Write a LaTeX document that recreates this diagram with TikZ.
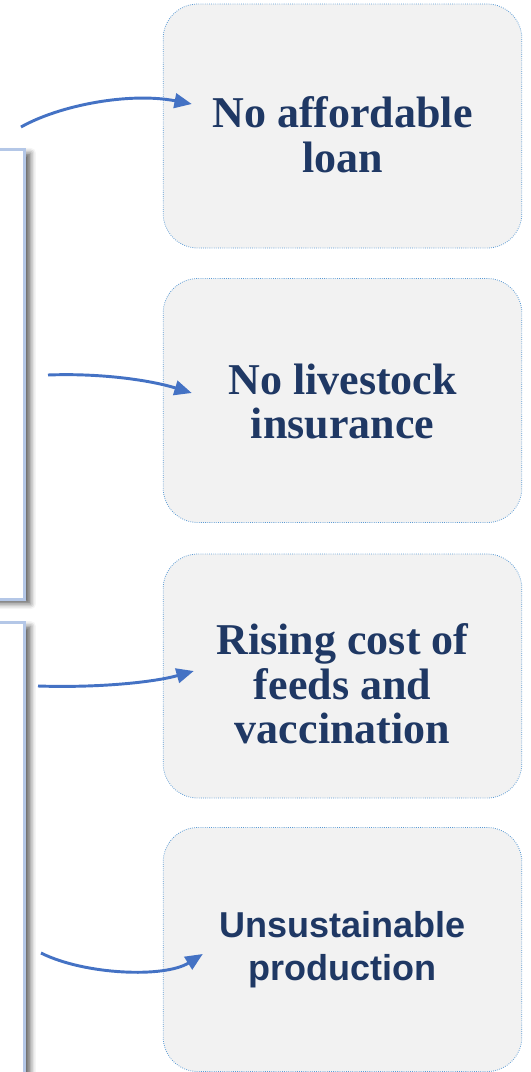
\documentclass[tikz,border=0pt]{standalone}
\usepackage{fontspec}
\usepackage{xcolor}
\usetikzlibrary{arrows.meta, calc, shadows.blur, positioning}
\newfontfamily\boxserif{Liberation Serif}
\newfontfamily\boxsans{Liberation Sans}
\definecolor{navytext}{RGB}{31,56,100}
\definecolor{arrowblue}{RGB}{68,114,196}
\definecolor{dotblue}{RGB}{91,155,213}
\definecolor{paleblue}{RGB}{180,199,231}
\definecolor{boxgray}{RGB}{242,242,242}

\begin{document}
\begin{tikzpicture}[x=0.75pt, y=-0.75pt,
    effect/.style={draw=dotblue, densely dotted, line width=0.6pt, fill=boxgray,
        rounded corners=26pt, minimum width=269pt, minimum height=183pt},
    effecttext/.style={align=center, text=navytext, inner sep=0pt,
        font=\boxserif\bfseries\fontsize{33}{33.5}\selectfont},
    cause/.style={draw=paleblue, line width=2.25pt, fill=white, inner sep=0pt,
        blur shadow={shadow xshift=5pt, shadow yshift=-3pt, shadow blur radius=4pt,
        shadow opacity=60}},
    link/.style={draw=arrowblue, line width=2.2pt,
        -{Triangle[length=13pt, width=11pt]}}]
    \useasboundingbox (0, 0) rectangle (531, 1072);
    % left frames
    \node[cause, minimum width=33pt, minimum height=338pt] (causeA) at (2, 374.5) {};
    \node[cause, minimum width=33pt, minimum height=358pt] (causeB) at (2, 861) {};
    % effects
    \node[effect] (loan) at (342.5, 126) {};
    \node[effect] (insur) at (342.5, 400.5) {};
    \node[effect] (feeds) at (342.5, 676) {};
    \node[effect] (prod) at (342.5, 949.5) {};
    \node[effecttext] at ($(loan)+(0, 9)$) {No affordable\\loan};
    \node[effecttext] at ($(insur)+(0, 1)$) {No livestock\\insurance};
    \node[effecttext] at ($(feeds)+(0, 8)$) {Rising cost of\\feeds and\\vaccination};
    \node[effecttext, font=\boxsans\bfseries\fontsize{27}{32}\selectfont] at (prod)
        {Unsustainable\\production};
    % arrows
    \coordinate (s1) at (21, 127);
    \coordinate (s2) at (48, 375);
    \coordinate (s3) at (38, 686);
    \coordinate (s4) at (41, 953);
    \draw[link] (s1) .. controls +(39, -22) and +(-62, -12) .. ($(loan.west)+(29, -22)$);
    \draw[link] (s2) .. controls +(52, -2) and +(-42, -13) .. ($(insur.west)+(29, -7.5)$);
    \draw[link] (s3) .. controls +(62, 2) and +(-39, 11) .. ($(feeds.west)+(31, -5)$);
    \draw[link] (s4) .. controls +(44, 22) and +(-38, 24) .. ($(prod.west)+(40, 4.5)$);
\end{tikzpicture}
\end{document}
